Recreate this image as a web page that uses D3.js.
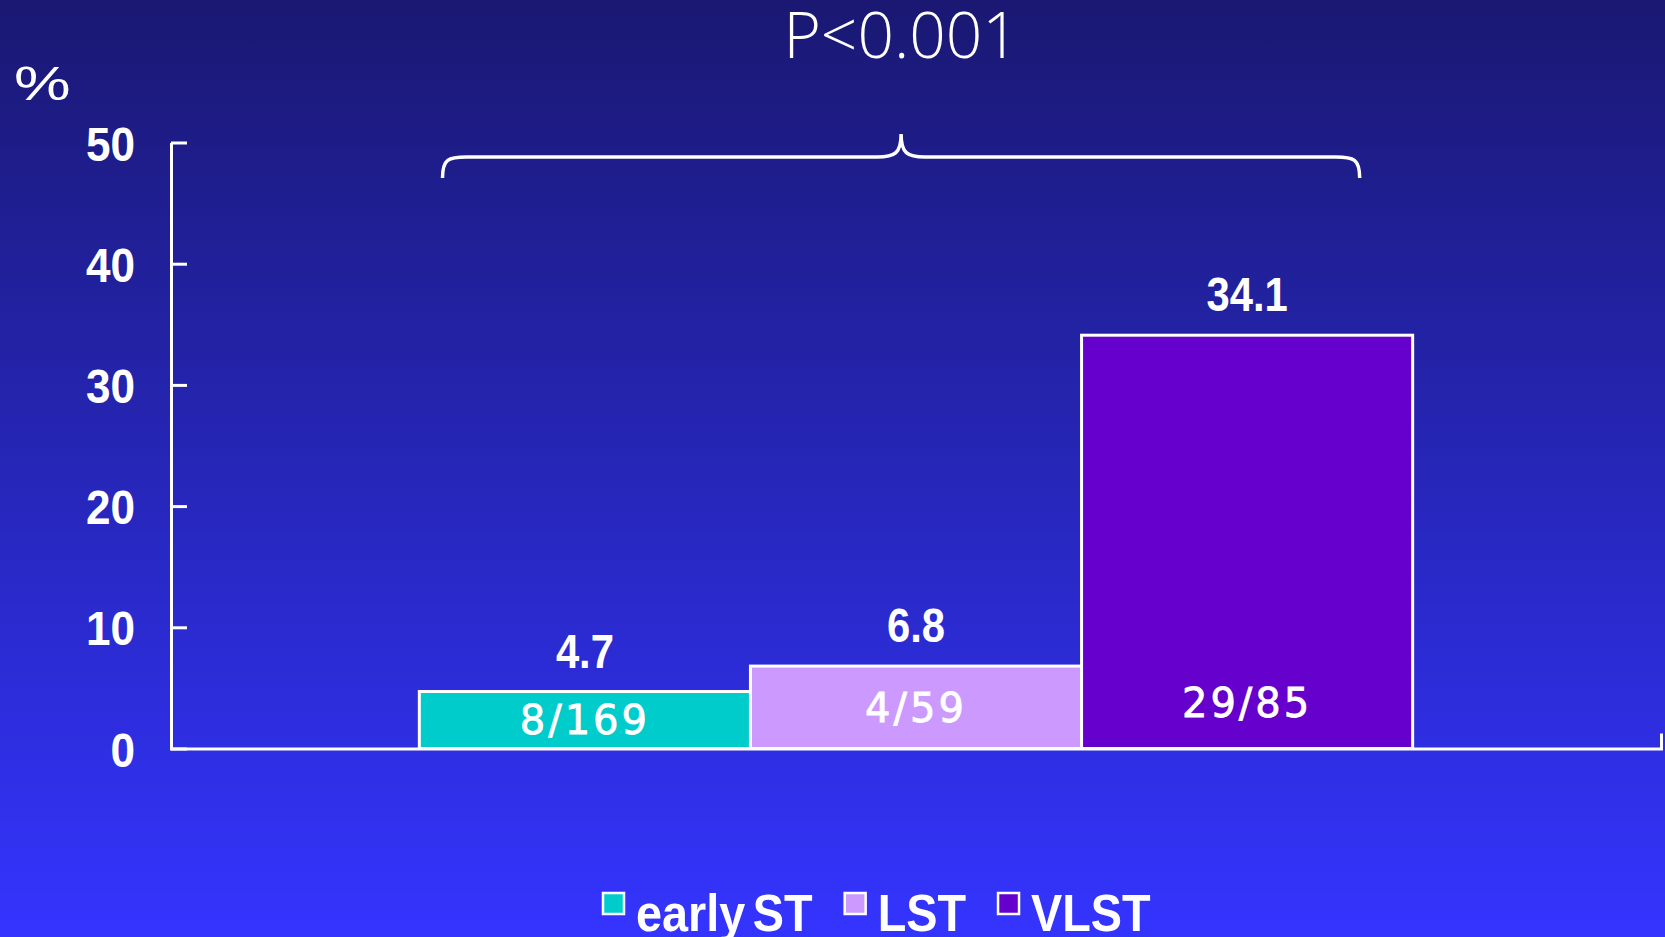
<!DOCTYPE html>
<html><head><meta charset="utf-8">
<script src="https://cdn.jsdelivr.net/npm/d3@7"></script>
<style>body{margin:0;overflow:hidden;background:#2020a0}</style>
</head><body>
<svg id="c" width="1665" height="937"></svg>
<script>
const categories = ["early ST", "LST", "VLST"];
const values = [4.7, 6.8, 34.1];
const counts = ["8/169", "4/59", "29/85"];
const colors = ["#00CCCC", "#CC99FF", "#6600CC"];
const yTicks = [0, 10, 20, 30, 40, 50];
const pText = "P<0.001";
const yUnit = "%";

const W = 1665, H = 937;
const svg = d3.select("#c");
const defs = svg.append("defs");
const grad = defs.append("linearGradient").attr("id","bg").attr("x1",0).attr("y1",0).attr("x2",0).attr("y2",1);
grad.append("stop").attr("offset","0%").attr("stop-color","#1a1872");
grad.append("stop").attr("offset","50%").attr("stop-color","#2626b8");
grad.append("stop").attr("offset","100%").attr("stop-color","#3434ff");
svg.append("rect").attr("width",W).attr("height",H).attr("fill","url(#bg)");

const mLeft = 171, mRight = 1661, mTop = 142.5, mBottom = 748.5;
const x = d3.scaleBand().domain(categories).range([mLeft, mRight]).paddingInner(0).paddingOuter(0.75);
const y = d3.scaleLinear().domain([0, 50]).range([mBottom, mTop]);

const numFont = "'Liberation Sans',Arial,sans-serif";
const sx = 0.9;

// y axis
const ya = svg.append("g").attr("transform",`translate(${mLeft},0)`)
  .call(d3.axisLeft(y).tickValues(yTicks).tickSize(-16).tickSizeOuter(0).tickPadding(36));
ya.select(".domain").attr("stroke","#fff").attr("stroke-width",3);
ya.selectAll(".tick line").attr("stroke","#fff").attr("stroke-width",3);
ya.selectAll(".tick text").attr("fill","#fff").attr("font-family",numFont)
  .attr("font-weight","bold").attr("font-size",49).attr("dy","0.36em")
  .attr("x",-36/sx).attr("transform",`scale(${sx},1)`);

// bars
svg.append("g").selectAll("rect").data(values).join("rect")
  .attr("x",(d,i)=>x(categories[i])).attr("width",x.bandwidth())
  .attr("y",d=>y(d)).attr("height",d=>y(0)-y(d))
  .attr("fill",(d,i)=>colors[i]).attr("stroke","#fff").attr("stroke-width",3);

// x axis
const xa = svg.append("g").attr("transform",`translate(0,${mBottom})`)
  .call(d3.axisBottom(x).tickValues([]).tickSizeOuter(-15));
xa.select(".domain").attr("stroke","#fff").attr("stroke-width",3);

// value labels
svg.append("g").selectAll("text").data(values).join("text")
  .attr("transform",(d,i)=>`translate(${x(categories[i])+x.bandwidth()/2},${y(d)-24}) scale(0.87,1)`)
  .attr("text-anchor","middle").attr("fill","#fff").attr("font-family",numFont)
  .attr("font-weight","bold").attr("font-size",48).text(d=>d.toFixed(1));

// count labels inside bars
svg.append("g").selectAll("text").data(values).join("text")
  .attr("x",(d,i)=>x(categories[i])+x.bandwidth()/2).attr("y",d=>y(Math.min(d/2,3.76)))
  .attr("dy","0.36em")
  .attr("text-anchor","middle").attr("fill","#fff").attr("font-family","'DejaVu Sans',Verdana,sans-serif")
  .attr("font-size",40).attr("letter-spacing",3).attr("stroke","#fff").attr("stroke-width",0.8)
  .text((d,i)=>counts[i]);

// brace
const bx0 = x(categories[0]) + 0.07*x.bandwidth();
const bx1 = x(categories[2]) + 0.84*x.bandwidth();
const bc = (bx0+bx1)/2, by = 157, byEnd = 178, byPeak = 134, r = 24;
const bp = `M${bx0},${byEnd} C${bx0},${by+2} ${bx0+6},${by} ${bx0+r},${by} L${bc-r},${by} C${bc-6},${by} ${bc},${by-4} ${bc},${byPeak} C${bc},${by-4} ${bc+6},${by} ${bc+r},${by} L${bx1-r},${by} C${bx1-6},${by} ${bx1},${by+2} ${bx1},${byEnd}`;
svg.append("path").attr("d",bp).attr("fill","none").attr("stroke","#fff").attr("stroke-width",3.5);

// P text
svg.append("text").attr("x",bc).attr("y",58).attr("text-anchor","middle").attr("fill","#fff")
  .attr("font-family","'Open Sans','Noto Sans',sans-serif").attr("font-weight",300)
  .attr("font-size",64).text(pText);

// % unit
svg.append("text").attr("transform","translate(14,100) scale(1.3,1)").attr("fill","#fff")
  .attr("font-family","'Liberation Sans',Arial,sans-serif").attr("font-size",49).text(yUnit);

// legend
const lg = svg.append("g");
let lx = 603;
categories.forEach((c,i)=>{
  lg.append("rect").attr("x",lx).attr("y",893).attr("width",21).attr("height",21)
    .attr("fill",colors[i]).attr("stroke","#fff").attr("stroke-width",2.5);
  const t = lg.append("text").attr("transform",`translate(${lx+33},931) scale(${sx},1)`).attr("fill","#fff")
    .attr("font-family",numFont).attr("font-weight","bold").attr("font-size",52).attr("word-spacing",-6).text(c);
  lx += 33 + t.node().getComputedTextLength()*sx + 32;
});
</script>
</body></html>
